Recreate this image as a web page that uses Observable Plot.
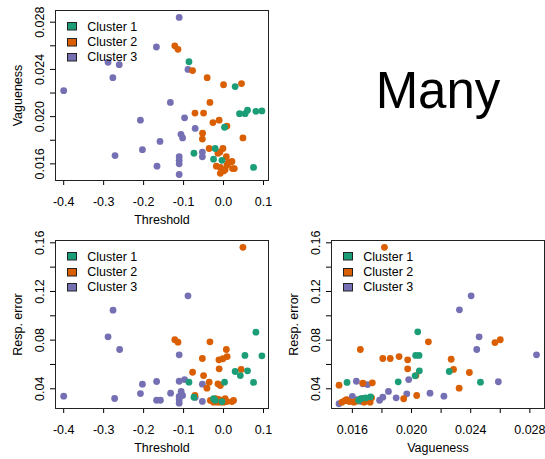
<!DOCTYPE html>
<html>
<head>
<meta charset="utf-8">
<script src="https://cdn.jsdelivr.net/npm/d3@7"></script>
<script src="https://cdn.jsdelivr.net/npm/@observablehq/plot@0.6"></script>
<style>
  html, body { margin: 0; padding: 0; background: #fff; }
  #wrap { position: relative; width: 545px; height: 459px; overflow: hidden; background: #fff; }
  .panel { position: absolute; }
  .panel svg { display: block; }
</style>
</head>
<body>
<div id="wrap"></div>
<script>
// ---------- data ----------
const clusters = ["Cluster 1", "Cluster 2", "Cluster 3"];
const clusterColors = ["#1B9E77", "#D95F02", "#7570B3"];
const panelTitle = "Many";

// Threshold vs Vagueness
const tv1 = [[-0.0865,0.02465],[0.029,0.02255],[0.040,0.02025],[0.054,0.02025],[0.060,0.02054],[0.081,0.02045],[0.096,0.02048],[0.0025,0.0191],[-0.074,0.0169],[-0.021,0.0173],[-0.025,0.0164],[-0.004,0.0163],[0.075,0.0157]];
const tv2 = [[-0.122,0.0260],[-0.114,0.0257],[-0.0775,0.0239],[-0.041,0.0233],[0.000,0.0227],[0.045,0.0228],[-0.034,0.0212],[-0.0715,0.0203],[-0.050,0.0203],[-0.0265,0.0195],[-0.011,0.0197],[0.0085,0.0192],[-0.0525,0.0186],[-0.053,0.0181],[0.0485,0.0182],[-0.036,0.0173],
  [-0.0015,0.0173],[-0.014,0.0169],[-0.009,0.0170],[0.007,0.0166],[0.021,0.0162],[0.012,0.0161],[0.0085,0.0159],[-0.018,0.0158],[-0.008,0.0157],[0.004,0.0155],[0.0225,0.0156],[0.027,0.0156],[-0.008,0.0152],[0.000,0.0154]];
const tv3 = [[-0.111,0.0284],[-0.168,0.0259],[-0.289,0.0246],[-0.261,0.0244],[-0.277,0.0233],[-0.400,0.0222],[-0.089,0.0240],[-0.133,0.0212],[-0.0975,0.0199],[-0.208,0.0197],[-0.071,0.0190],[-0.1065,0.0185],[-0.1025,0.0182],[-0.159,0.0179],[-0.203,0.0172],[-0.2715,0.0167],[-0.053,0.0170],[-0.053,0.0166],[-0.111,0.0166],[-0.111,0.0163],[-0.111,0.0160],[-0.1665,0.0158],[-0.111,0.0151]];

// Threshold vs Resp. error
const te1 = [[0.081,0.0865],[0.0535,0.0674],[0.096,0.0671],[0.029,0.0542],[0.042,0.0509],[0.060,0.0548],[0.075,0.0452],[0.0025,0.0454],[-0.0865,0.0454],[-0.074,0.0331],[-0.025,0.0318],[-0.021,0.0305],[-0.004,0.0295]];
const te2 = [[0.0485,0.1563],[-0.122,0.0803],[-0.114,0.0783],[-0.034,0.0786],[0.007,0.0723],[-0.0115,0.0638],[-0.0015,0.0647],[0.009,0.0665],[-0.053,0.0649],[-0.011,0.0564],[0.044,0.0559],[-0.0775,0.0536],[-0.050,0.0509],[-0.036,0.0454],[-0.0415,0.0405],[-0.014,0.0441],[-0.008,0.0427],[-0.0715,0.0345],
  [-0.033,0.0304],[-0.020,0.0318],[-0.012,0.0312],[-0.004,0.0304],[0.004,0.0318],[0.008,0.0295],[0.021,0.0295],[0.025,0.0304],[-0.016,0.0290],[-0.008,0.0290],[0.000,0.0290],[-0.025,0.0290]];
const te3 = [[-0.2765,0.1046],[-0.289,0.0827],[-0.260,0.0723],[-0.203,0.0438],[-0.1675,0.0460],[-0.400,0.0339],[-0.2725,0.0320],[-0.208,0.0361],[-0.1675,0.0306],[-0.158,0.0306],[-0.089,0.1164],[-0.111,0.0679],[-0.111,0.0462],[-0.0975,0.0476],[-0.053,0.0438],[-0.1325,0.0364],[-0.106,0.0378],[-0.111,0.0337],[-0.111,0.0310],[-0.111,0.0282],[-0.1025,0.0345],[-0.071,0.0329],[-0.053,0.0296]];

// Vagueness vs Resp. error
const ve1 = [[0.02042,0.0868],[0.02028,0.0674],[0.02051,0.0674],[0.02053,0.0548],[0.02024,0.0507],[0.0191,0.0457],[0.01564,0.0452],[0.01723,0.0334],[0.01658,0.0318],[0.01642,0.0306],[0.02255,0.0542],[0.02466,0.0454],[0.0169,0.0325]];
const ve2 = [[0.01817,0.1563],[0.01654,0.0723],[0.01806,0.0649],[0.01856,0.0649],[0.01916,0.0665],[0.01974,0.0638],[0.01974,0.0564],[0.0151,0.0430],[0.01671,0.0446],[0.01735,0.0449],[0.01947,0.0318],[0.02035,0.0345],[0.02268,0.0643],[0.02284,0.0559],[0.02391,0.0534],[0.02322,0.0405],[0.02564,0.0780],[0.02600,0.0803],[0.02114,0.0786],[0.0203,0.0509],
  [0.0153,0.0290],[0.0155,0.0302],[0.0158,0.0295],[0.0161,0.0290],[0.0163,0.0298],[0.0168,0.0319],[0.0168,0.0290],[0.0172,0.0290],[0.0173,0.0326],[0.0156,0.0310]];
const ve3 = [[0.02403,0.1164],[0.02324,0.1049],[0.02457,0.0827],[0.02441,0.0723],[0.02845,0.0679],[0.02587,0.0458],[0.02219,0.0339],[0.0151,0.0277],[0.01568,0.0306],[0.01627,0.0462],[0.01671,0.0441],[0.01703,0.0435],[0.01784,0.0306],[0.01806,0.0331],[0.01844,0.0378],[0.01896,0.0326],[0.01968,0.0359],[0.01981,0.0476],[0.02125,0.0364],[0.0167,0.0320],[0.0166,0.0296],[0.0163,0.0310],[0.0160,0.0337]];

// ticks
const thresholdTicks = [-0.4, -0.3, -0.2, -0.1, 0.0, 0.1];
const vaguenessTicks = [0.016, 0.018, 0.020, 0.022, 0.024, 0.026, 0.028];
const vaguenessLabels = [0.016, 0.020, 0.024, 0.028];
const errorTicks = [0.04, 0.06, 0.08, 0.10, 0.12, 0.14, 0.16];
const errorLabels = [0.04, 0.08, 0.12, 0.16];

const thresholdDomain = [-0.4205, 0.1125];
const vaguenessDomain = [0.01459, 0.02899];
const errorDomain = [0.0238, 0.1619];

// ---------- helpers ----------
const FONT = "'Liberation Sans', Arial, Helvetica, sans-serif";
const FS = 12.5;

function rows(c1, c2, c3) {
  // draw order: cluster 3, cluster 2, cluster 1
  return [
    ...c3.map(([x, y]) => ({x, y, cluster: clusters[2]})),
    ...c2.map(([x, y]) => ({x, y, cluster: clusters[1]})),
    ...c1.map(([x, y]) => ({x, y, cluster: clusters[0]}))
  ];
}

function fmtOnly(labels, digits) {
  return d => labels.some(l => Math.abs(l - d) < 1e-9) ? d.toFixed(digits) : "";
}

function legendMark(ml, mt) {
  return () => {
    const g = d3.create("svg:g").attr("font-family", FONT).attr("font-size", FS).attr("text-anchor", "start");
    clusters.forEach((c, i) => {
      const cy = mt + 16.3 + i * 15.3;
      g.append("rect")
        .attr("x", ml + 12.5).attr("y", Math.round(cy - 4) + 0.5)
        .attr("width", 9).attr("height", 7.5)
        .attr("fill", clusterColors[i]).attr("stroke", "#222").attr("stroke-width", 1);
      g.append("text")
        .attr("x", ml + 32.3).attr("y", cy).attr("dy", "0.36em")
        .attr("text-anchor", "start")
        .attr("fill", "black").text(c);
    });
    return g.node();
  };
}

function panel({data, xDomain, yDomain, xTicks, xFmt, yTicks, yFmt, xLabel, yLabel, width, height, ml, mr, mt, mb}) {
  return Plot.plot({
    width, height,
    marginLeft: ml, marginRight: mr, marginTop: mt, marginBottom: mb,
    style: {fontFamily: FONT, fontSize: FS + "px", color: "black", background: "white"},
    x: {domain: xDomain},
    y: {domain: yDomain},
    color: {domain: clusters, range: clusterColors},
    marks: [
      Plot.axisX({ticks: xTicks, tickFormat: xFmt, tickSize: 5, tickPadding: 11.5, label: xLabel, labelAnchor: "center", labelOffset: 43.5, labelArrow: "none", fill: "black"}),
      Plot.axisY({ticks: yTicks, tickFormat: yFmt, tickSize: 5, tickPadding: 6.5, tickRotate: -90, label: yLabel, labelAnchor: "center", labelOffset: 42, labelArrow: "none", fill: "black"}),
      Plot.dot(data, {x: "x", y: "y", fill: "cluster", r: 3.4, stroke: null}),
      Plot.frame({stroke: "#222", strokeWidth: 1}),
      legendMark(ml, mt)
    ]
  });
}

// ---------- layout ----------
const wrap = document.getElementById("wrap");
function place(node, left, top) {
  const d = document.createElement("div");
  d.className = "panel";
  d.style.left = left + "px";
  d.style.top = top + "px";
  d.appendChild(node);
  wrap.appendChild(d);
}

place(panel({
  data: rows(tv1, tv2, tv3),
  xDomain: thresholdDomain, yDomain: vaguenessDomain,
  xTicks: thresholdTicks, xFmt: d => d.toFixed(1),
  yTicks: vaguenessTicks, yFmt: fmtOnly(vaguenessLabels, 3),
  xLabel: "Threshold", yLabel: "Vagueness",
  width: 272, height: 229, ml: 55, mr: 4, mt: 10, mb: 49
}), 0, 0);

place(panel({
  data: rows(te1, te2, te3),
  xDomain: thresholdDomain, yDomain: errorDomain,
  xTicks: thresholdTicks, xFmt: d => d.toFixed(1),
  yTicks: errorTicks, yFmt: fmtOnly(errorLabels, 2),
  xLabel: "Threshold", yLabel: "Resp. error",
  width: 272, height: 229, ml: 55, mr: 4, mt: 10, mb: 51
}), 0, 230);

place(panel({
  data: rows(ve1, ve2, ve3),
  xDomain: vaguenessDomain, yDomain: errorDomain,
  xTicks: vaguenessTicks, xFmt: fmtOnly(vaguenessLabels, 3),
  yTicks: errorTicks, yFmt: fmtOnly(errorLabels, 2),
  xLabel: "Vagueness", yLabel: "Resp. error",
  width: 273, height: 229, ml: 59, mr: 1, mt: 10, mb: 51
}), 272, 230);

// Title in the empty top-right cell
const t = d3.create("svg").attr("width", 273).attr("height", 229);
t.append("text").attr("x", 438 - 272).attr("y", 108)
  .attr("text-anchor", "middle").attr("font-family", FONT).attr("font-size", 51)
  .attr("fill", "black").text(panelTitle);
place(t.node(), 272, 0);
</script>
</body>
</html>
